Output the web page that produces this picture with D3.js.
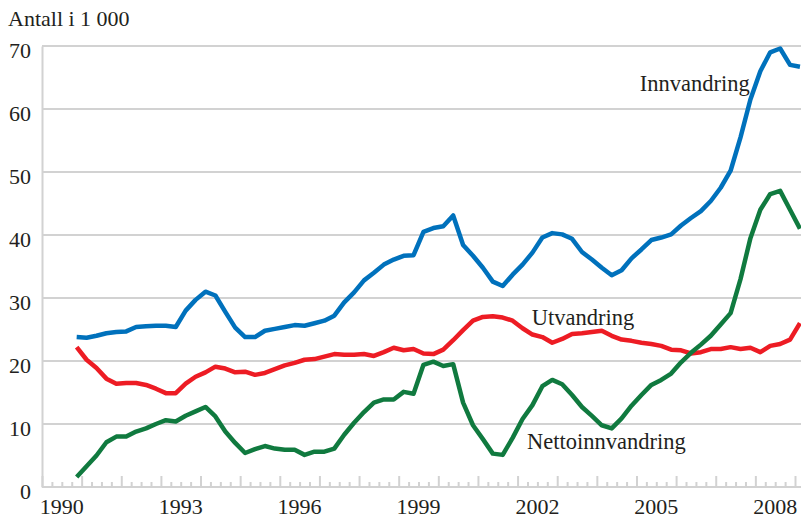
<!DOCTYPE html>
<html>
<head>
<meta charset="utf-8">
<script src="https://cdn.jsdelivr.net/npm/d3@7"></script>
<style>
  body { margin: 0; background: #fff; }
  text { font-family: "Liberation Serif", "DejaVu Serif", serif; fill: #231f20; }
</style>
</head>
<body>
<script>
// quarterly figures, first value is 1990 K4
var firstQuarter = { year: 1990, quarter: 4 };

var innvandring = [23.8, 23.7, 24.0, 24.4, 24.6, 24.7, 25.4, 25.5, 25.6, 25.6,
                   25.4, 28.0, 29.7, 31.0, 30.4, 27.8, 25.3, 23.8, 23.8, 24.8,
                   25.1, 25.4, 25.7, 25.6, 26.0, 26.4, 27.2, 29.3, 30.9, 32.8,
                   34.0, 35.3, 36.1, 36.7, 36.8, 40.5, 41.1, 41.4, 43.1, 38.4,
                   36.7, 34.8, 32.6, 31.9, 33.7, 35.3, 37.2, 39.6, 40.3, 40.1,
                   39.4, 37.3, 36.1, 34.8, 33.6, 34.4, 36.3, 37.7, 39.2, 39.6,
                   40.1, 41.5, 42.7, 43.8, 45.4, 47.5, 50.2, 55.5, 61.5, 66.0,
                   69.0, 69.6, 67.0, 66.7];

var utvandring = [22.2, 20.2, 18.9, 17.2, 16.4, 16.5, 16.5, 16.2, 15.6, 14.9,
                  14.9, 16.4, 17.5, 18.2, 19.1, 18.8, 18.2, 18.3, 17.8, 18.1,
                  18.7, 19.3, 19.7, 20.2, 20.3, 20.7, 21.1, 21.0, 21.0, 21.1,
                  20.8, 21.4, 22.1, 21.7, 21.9, 21.2, 21.1, 21.8, 23.3, 24.9,
                  26.4, 27.0, 27.1, 26.9, 26.4, 25.2, 24.2, 23.8, 22.9, 23.5,
                  24.3, 24.4, 24.6, 24.8, 24.0, 23.4, 23.2, 22.9, 22.7, 22.4,
                  21.8, 21.7, 21.2, 21.4, 21.9, 21.9, 22.2, 21.9, 22.1, 21.4,
                  22.4, 22.7, 23.4, 26.0];

var nettoinnvandring = [1.6, 3.3, 5.0, 7.1, 8.0, 8.0, 8.8, 9.3, 10.0, 10.6,
                        10.4, 11.3, 12.0, 12.7, 11.2, 8.8, 7.0, 5.4, 6.0, 6.5,
                        6.1, 5.9, 5.9, 5.1, 5.6, 5.6, 6.1, 8.3, 10.2, 11.9,
                        13.4, 13.9, 13.9, 15.1, 14.8, 19.4, 19.9, 19.2, 19.5, 13.4,
                        9.8, 7.6, 5.3, 5.1, 7.8, 10.8, 13.0, 16.0, 17.0, 16.3,
                        14.6, 12.7, 11.3, 9.8, 9.3, 10.9, 12.9, 14.6, 16.2, 17.0,
                        18.0, 19.8, 21.3, 22.6, 24.0, 25.8, 27.6, 33.0, 39.5, 44.0,
                        46.5, 47.0, 44.0, 41.0];

var yTicks = [0, 10, 20, 30, 40, 50, 60, 70];
var yearLabels = [1990, 1993, 1996, 1999, 2002, 2005, 2008];

var series = [
  { name: "Innvandring", values: innvandring, color: "#0071bc" },
  { name: "Utvandring", values: utvandring, color: "#ed1c24" },
  { name: "Nettoinnvandring", values: nettoinnvandring, color: "#107a3f" }
];

// label anchors in data units (time in years, value)
var seriesLabels = [
  { text: "Innvandring", t: 2007.86, v: 62.9, anchor: "end" },
  { text: "Utvandring", t: 2002.36, v: 25.7, anchor: "start" },
  { text: "Nettoinnvandring", t: 2002.24, v: 6.1, anchor: "start" }
];

var w = 801, h = 519;
var svg = d3.select("body").append("svg")
  .attr("width", w)
  .attr("height", h);

var x = d3.scaleLinear().domain([1990, 2009]).range([42, 795]);
var y = d3.scaleLinear().domain([0, 70]).range([487, 46]);

var grey = "#d2d2d2";

// time of a quarter index (centre of the quarter)
var timeOf = function (i) {
  return firstQuarter.year + (firstQuarter.quarter - 1 + i + 0.5) / 4;
};

// grid lines
svg.append("g")
  .selectAll("line")
  .data(yTicks.filter(d => d > 0))
  .enter()
  .append("line")
  .attr("x1", x(1990))
  .attr("x2", w)
  .attr("y1", d => y(d))
  .attr("y2", d => y(d))
  .attr("stroke", grey)
  .attr("stroke-width", 2);

// y axis
var yAxis = svg.append("g")
  .attr("transform", `translate(${x(1990)},0)`)
  .call(d3.axisLeft(y).tickValues(yTicks).tickSize(0).tickPadding(11));
yAxis.select(".domain").attr("stroke", grey).attr("stroke-width", 2);
yAxis.selectAll("text")
  .attr("font-size", "22px")
  .attr("font-family", null)
  .attr("dy", "0.52em");

// x axis: quarter ticks, longer on whole years
var quarterTicks = d3.range(0, 77).map(k => 1990 + k / 4);
var xAxis = svg.append("g")
  .attr("transform", `translate(0,${y(0)})`)
  .call(d3.axisBottom(x).tickValues(quarterTicks).tickSize(0).tickFormat(""));
xAxis.select(".domain").attr("d", `M${x(1990)},0H${w}`).attr("stroke", grey).attr("stroke-width", 2);
xAxis.selectAll(".tick line")
  .attr("y2", d => Number.isInteger(d) ? -11 : -5)
  .attr("stroke", grey)
  .attr("stroke-width", 2);

svg.append("g")
  .selectAll("text")
  .data(yearLabels)
  .enter()
  .append("text")
  .attr("x", d => x(d + 0.5))
  .attr("y", 514)
  .attr("text-anchor", "middle")
  .attr("font-size", "22px")
  .text(d => d);

// unit label
svg.append("text")
  .attr("x", 8)
  .attr("y", 26)
  .attr("font-size", "22px")
  .text("Antall i 1 000");

// lines
var line = d3.line()
  .x((d, i) => x(timeOf(i)))
  .y(d => y(d));

svg.append("g")
  .selectAll("path")
  .data(series)
  .enter()
  .append("path")
  .attr("d", d => line(d.values))
  .attr("fill", "none")
  .attr("stroke", d => d.color)
  .attr("stroke-width", 4.5)
  .attr("stroke-linejoin", "round");

// series labels
svg.append("g")
  .selectAll("text")
  .data(seriesLabels)
  .enter()
  .append("text")
  .attr("x", d => x(d.t))
  .attr("y", d => y(d.v))
  .attr("text-anchor", d => d.anchor)
  .attr("font-size", "22.5px")
  .text(d => d.text);
</script>
</body>
</html>
